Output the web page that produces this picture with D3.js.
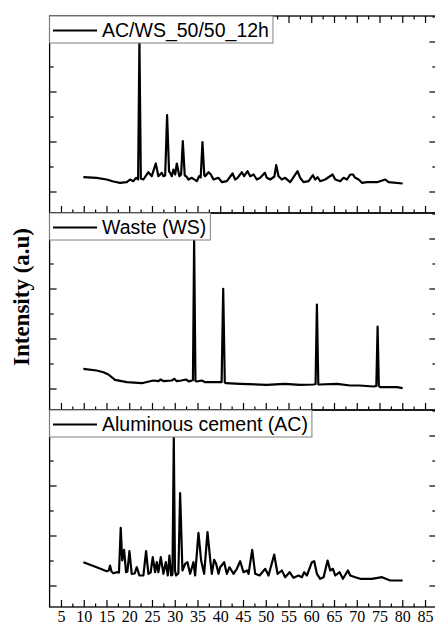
<!DOCTYPE html>
<html>
<head>
<meta charset="utf-8">
<script src="https://cdnjs.cloudflare.com/ajax/libs/d3/7.8.5/d3.min.js"></script>
<style>
  body { margin: 0; background: #fff; }
  svg { display: block; }
</style>
</head>
<body>
<svg id="chart" width="435" height="626"></svg>
<script>
// XRD patterns: [2theta (deg), intensity (a.u.)]
var mixData = [
  [9.92,143],[12.85,137],[15.05,120],[16.52,100],[17.98,87],[19.45,93],[20.18,120],[20.92,103],
  [21.5,137],[21.95,120],[22.24,1500],[22.55,130],[23.11,120],[24.21,193],[24.95,153],[25.83,280],
  [26.41,153],[27.15,187],[27.51,153],[27.9,160],[28.32,763],[28.75,200],[28.98,187],[29.35,153],
  [29.71,220],[30.1,170],[30.45,280],[31.03,153],[31.4,170],[31.77,503],[32.2,160],[32.5,153],[33.01,120],
  [33.75,137],[34.85,103],[35.36,153],[35.7,140],[36.09,493],[36.5,160],[36.68,153],[37.42,193],[37.93,170],
  [38.52,120],[39.62,137],[40.35,93],[41.45,103],[42.7,180],[43.28,120],[43.8,137],[44.75,193],
  [45.26,153],[46.0,203],[46.58,153],[47.32,170],[48.05,120],[48.78,137],[49.81,187],[50.24,137],
  [50.98,120],[51.9,150],[52.3,263],[52.81,153],[53.54,120],[54.27,137],[55.37,93],[56.99,203],[57.57,137],
  [58.31,93],[59.41,103],[60.36,163],[60.87,120],[61.38,143],[61.97,103],[63.07,120],[64.69,170],
  [65.27,120],[66.37,103],[67.1,137],[67.84,120],[68.57,170],[69.16,170],[69.67,137],[70.4,120],
  [71.14,87],[72.24,93],[73.34,93],[74.44,93],[76.27,120],[77.0,93],[80.08,80]
];
var wasteData = [
  [9.92,197],[12.85,180],[14.32,163],[15.42,140],[16.88,87],[19.45,63],[22.75,53],[25.31,80],
  [26.41,73],[26.93,90],[27.51,73],[29.35,80],[29.9,97],[30.45,73],[31.5,80],[32.43,90],[33.16,70],
  [33.75,80],[34.0,85],[34.26,1480],[34.55,75],[34.85,70],[35.95,80],[36.68,63],[37.78,63],[39.25,63],
  [40.3,63],[40.65,997],[41.0,60],[41.3,53],[44.38,47],[50.24,37],[54.13,47],[57.57,37],[60.51,40],
  [60.95,45],[61.24,840],[61.55,40],[61.83,40],[65.64,47],[68.57,30],[70.62,30],[73.7,20],[74.3,25],
  [74.58,620],[74.85,25],[75.17,13],[78.83,13],[80.08,3]
];
var cementData = [
  [9.92,233],[12.85,183],[15.05,143],[15.5,150],[15.78,200],[16.1,140],[16.52,123],[17.25,133],
  [17.75,130],[18.13,577],[18.45,250],[18.57,283],[18.87,357],[19.3,133],[19.6,140],[20.04,343],
  [20.55,117],[21.2,120],[21.65,183],[22.24,100],[23.11,100],[23.7,343],[24.21,117],[24.7,130],
  [25.17,283],[25.68,133],[26.05,233],[26.41,133],[26.93,283],[27.51,117],[28.03,233],[28.47,100],
  [28.83,300],[29.2,100],[29.5,110],[29.79,1480],[30.05,150],[30.3,100],[30.8,120],[31.18,923],
  [31.69,150],[32.28,217],[32.79,233],[33.38,117],[34.11,233],[34.48,100],[35.21,527],[35.8,250],
  [36.46,117],[37.2,533],[37.78,267],[38.15,117],[38.66,257],[39.1,217],[39.62,117],[39.98,183],
  [40.86,233],[41.45,117],[42.04,183],[42.91,117],[43.65,167],[44.38,243],[45.11,133],[45.85,150],
  [46.22,117],[47.02,357],[47.68,117],[48.64,100],[49.88,167],[50.61,100],[51.86,310],[52.59,117],
  [53.54,150],[54.27,83],[55.23,133],[56.11,77],[57.21,100],[57.94,83],[58.45,133],[59.04,100],
  [60.14,233],[60.65,243],[61.24,117],[61.97,67],[62.71,83],[63.59,250],[64.17,150],[64.76,167],
  [65.27,100],[66.22,133],[66.96,67],[68.06,150],[68.57,100],[69.67,83],[70.77,67],[72.24,67],
  [73.34,67],[75.54,83],[77.37,50],[80.08,50]
];
var seriesNames = ['AC/WS_50/50_12h', 'Waste (WS)', 'Aluminous cement (AC)'];
var xTicks = [5,10,15,20,25,30,35,40,45,50,55,60,65,70,75,80,85];
var xMinorTicks = [7.5,12.5,17.5,22.5,27.5,32.5,37.5,42.5,47.5,52.5,57.5,62.5,67.5,72.5,77.5,82.5];
var yTicks = [0,500,1000,1500];
var yMinorTicks = [250,750,1250,1750];
var yLabel = 'Intensity (a.u)';

var series = [mixData, wasteData, cementData];

var left = 49.6, right = 436.4, top0 = 16, panelH = 197;
var serif = '"Liberation Serif", "Times New Roman", serif';
var sans = '"Liberation Sans", Arial, sans-serif';

var svg = d3.select('#chart');
var x = d3.scaleLinear().domain([2.5, 87.5]).range([left, right]);

function styleAxis(sel) {
  sel.select('.domain').remove();
  sel.selectAll('line').attr('stroke', '#000').attr('stroke-width', 1.2);
}

series.forEach(function(data, i) {
  var top = top0 + i * panelH;
  var bottom = top + panelH;
  var y = d3.scaleLinear().domain([-215, 1755]).range([bottom, top]);
  var g = svg.append('g').attr('class', 'panel');

  // pattern
  var line = d3.line()
    .x(function(d) { return x(d[0]); })
    .y(function(d) { return y(d[1]); });
  g.append('path')
    .datum(data)
    .attr('d', line)
    .attr('fill', 'none')
    .attr('stroke', '#000')
    .attr('stroke-width', 2.2)
    .attr('stroke-linejoin', 'round');

  // bottom axis, ticks inward
  var bx = g.append('g').attr('transform', 'translate(0,' + bottom + ')')
    .call(d3.axisBottom(x).tickValues(xTicks).tickSize(-7).tickSizeOuter(0)
      .tickFormat(i == 2 ? d3.format('d') : ''));
  styleAxis(bx);
  bx.selectAll('text')
    .attr('y', 15.3).attr('dy', null)
    .attr('font-family', serif).attr('font-size', 16).attr('fill', '#000');
  var bxm = g.append('g').attr('transform', 'translate(0,' + bottom + ')')
    .call(d3.axisBottom(x).tickValues(xMinorTicks).tickSize(-3.5).tickSizeOuter(0).tickFormat(''));
  styleAxis(bxm);

  // top ticks only on the first panel
  if (i == 0) {
    var tx = g.append('g').attr('transform', 'translate(0,' + top + ')')
      .call(d3.axisTop(x).tickValues(xTicks).tickSize(-7).tickSizeOuter(0).tickFormat(''));
    styleAxis(tx);
    var txm = g.append('g').attr('transform', 'translate(0,' + top + ')')
      .call(d3.axisTop(x).tickValues(xMinorTicks).tickSize(-3.5).tickSizeOuter(0).tickFormat(''));
    styleAxis(txm);
  }

  // left and right ticks
  [[d3.axisLeft, left], [d3.axisRight, right]].forEach(function(a) {
    var ya = g.append('g').attr('transform', 'translate(' + a[1] + ',0)')
      .call(a[0](y).tickValues(yTicks).tickSize(-7).tickSizeOuter(0).tickFormat(''));
    styleAxis(ya);
    var yam = g.append('g').attr('transform', 'translate(' + a[1] + ',0)')
      .call(a[0](y).tickValues(yMinorTicks).tickSize(-4).tickSizeOuter(0).tickFormat(''));
    styleAxis(yam);
  });

  // frame
  g.append('rect')
    .attr('x', left).attr('y', top)
    .attr('width', right - left).attr('height', panelH)
    .attr('fill', 'none').attr('stroke', '#000').attr('stroke-width', 1.3);

  // legend
  var lg = g.append('g').attr('class', 'legend');
  var box = lg.append('rect')
    .attr('x', left).attr('y', top).attr('height', 27)
    .attr('fill', '#fff').attr('stroke', '#7f7f7f').attr('stroke-width', 1);
  lg.append('line')
    .attr('x1', 53).attr('x2', 97)
    .attr('y1', top + 14.5).attr('y2', top + 14.5)
    .attr('stroke', '#000').attr('stroke-width', 2);
  var txt = lg.append('text')
    .attr('x', 102).attr('y', top + 21.3)
    .attr('font-family', sans).attr('font-size', 19.5).attr('fill', '#000')
    .text(seriesNames[i]);
  box.attr('width', 102 + txt.node().getComputedTextLength() + 4 - left);
});

// y-axis title
svg.append('text')
  .attr('transform', 'translate(29,297) rotate(-90)')
  .attr('text-anchor', 'middle')
  .attr('font-family', serif)
  .attr('font-weight', 'bold')
  .attr('font-size', 23)
  .attr('fill', '#000')
  .text(yLabel);
</script>
</body>
</html>
